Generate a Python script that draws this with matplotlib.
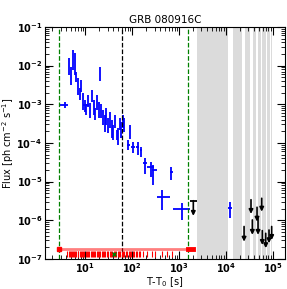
import numpy as np
import matplotlib
matplotlib.use("Agg")
import matplotlib.pyplot as plt
from matplotlib.ticker import FuncFormatter, NullFormatter

# LAT flux points: time, time range, flux, flux range
t = [3.75, 4.57, 5.04, 5.56, 5.98, 6.44, 7.10, 7.83, 8.22, 9.06, 10.0, 10.5, 11.6, 12.8, 14.1,
     15.5, 16.3, 18.0, 19.9, 20.8, 21.9, 24.1, 26.6, 28.0, 30.8, 34.0, 37.5, 39.4, 43.5, 48.0,
     50.4, 55.6, 58.3, 64.4, 67.6, 82, 91, 105, 132, 158, 189, 250, 284, 686, 428, 1140, 12300]
t_lo = [2.94, 4.57, 5.04, 5.56, 5.98, 6.44, 7.10, 7.83, 8.22, 9.06, 10.0, 9.0, 11.6, 12.8, 14.1,
        15.5, 16.3, 18.0, 19.9, 20.8, 21.9, 24.1, 26.6, 28.0, 30.8, 34.0, 37.5, 39.4, 43.5, 48.0,
        50.4, 55.6, 58.3, 64.4, 67.6, 77, 91, 96, 122, 150, 171, 208, 266, 636, 334, 760, 11000]
t_hi = [4.34, 4.57, 5.04, 5.56, 5.98, 6.44, 7.10, 7.83, 8.22, 9.06, 10.0, 12.0, 11.6, 12.8, 14.1,
        15.5, 16.3, 18.0, 19.9, 20.8, 21.9, 24.1, 26.6, 28.0, 30.8, 34.0, 37.5, 39.4, 43.5, 48.0,
        50.4, 55.6, 58.3, 64.4, 67.6, 88, 91, 115, 142, 166, 208, 290, 340, 745, 640, 1710, 13400]
f_lo = [8.0e-4, 5.7e-3, 3.16e-3, 7.7e-3, 5.7e-3, 3.78e-3, 1.74e-3, 1.30e-3, 2.09e-3, 7.1e-4,
        6.3e-4, 5.3e-4, 8.5e-4, 4.4e-4, 1.15e-3, 5.3e-4, 3.9e-4, 7.1e-4, 4.4e-4, 4.0e-3,
        4.4e-4, 2.92e-4, 1.93e-4, 2.92e-4, 1.81e-4, 2.44e-4, 1.35e-4, 1.20e-4, 2.44e-4, 1.20e-4,
        8.9e-5, 2.17e-4, 1.35e-4, 2.44e-4, 1.93e-4, 6.5e-5, 1.26e-4, 5.5e-5, 5.0e-5, 4.4e-5,
        1.58e-5, 1.32e-5, 8.2e-6, 1.1e-5, 1.85e-6, 1.02e-6, 1.13e-6]
f_hi = [1.15e-3, 1.58e-2, 9.2e-3, 2.54e-2, 2.13e-2, 6.9e-3, 4.8e-3, 2.65e-3, 4.26e-3, 1.97e-3,
        1.30e-3, 1.02e-3, 1.74e-3, 1.08e-3, 2.35e-3, 1.30e-3, 8.0e-4, 1.74e-3, 1.15e-3, 9.2e-3,
        1.02e-3, 7.1e-4, 5.3e-4, 8.0e-4, 4.4e-4, 6.3e-4, 3.9e-4, 2.92e-4, 5.3e-4, 2.17e-4,
        2.44e-4, 4.4e-4, 3.5e-4, 5.3e-4, 4.4e-4, 1.2e-4, 2.92e-4, 1.05e-4, 1.05e-4, 7.9e-5,
        4.1e-5, 3.2e-5, 2.7e-5, 2.4e-5, 6.1e-6, 2.8e-6, 3.0e-6]
f = [9.6e-4, None, None, None, None, None, None, None, None, None, None, 9.6e-4, None, None, None,
     None, None, None, None, None, None, None, None, None, None, None, None, None, None, None,
     None, None, None, None, None, 9e-5, None, 7.8e-5, 7.8e-5, 6.6e-5, 3.04e-5, 2.4e-5, 2.0e-5,
     1.81e-5, 4.1e-6, 1.93e-6, 2.05e-6]

# upper limits
ul_t = [2010, 24200, 34000, 36300, 45700, 48000, 57500, 59200, 70000, 82200, 93700]
ul_t_lo = [1710, 24200, 34000, 36300, 45700, 48000, 57500, 59200, 70000, 82200, 93700]
ul_t_hi = [2360, 24200, 34000, 36300, 45700, 48000, 57500, 59200, 70000, 82200, 93700]
ul_top = [3.2e-6, 6.9e-7, 3.4e-6, 1.02e-6, 2.17e-6, 1.13e-6, 3.7e-6, 5.4e-7, 4.6e-7, 5.6e-7, 6.9e-7]
ul_bot = [1.3e-6, 2.8e-7, 1.46e-6, 4.2e-7, 9.2e-7, 4.2e-7, 1.67e-6, 2.3e-7, 1.9e-7, 2.55e-7, 3.1e-7]

# time intervals with no observation
gaps = [(2450, 10900), (13800, 22400), (25000, 32300), (37000, 44000),
        (47000, 55000), (57500, 71000), (74000, 87000), (88500, 96000)]

# photon arrival times
photons = [4.1, 4.5, 4.8, 5.0, 5.3, 5.6, 5.9, 6.2, 6.5, 6.9, 7.2, 7.6, 8.0, 8.5, 9.0, 9.6,
           10.2, 10.8, 11.5, 12.3, 13.0, 13.8, 14.5, 15.5, 16.4, 17.5, 18.6, 19.8, 21, 22.5,
           24, 25.5, 27, 29, 31, 33, 35.5, 38, 40.5, 43, 46, 49, 52, 56, 60, 64, 68, 73, 78,
           84, 90, 97, 104, 112, 120, 130, 140, 150, 174, 205, 262, 308, 428, 547, 698]
max_photon = 40.5
t90 = (2.8, 2000)
t90_end = 1550
t_green = [2.8, 1530]
t_black = 62

xticks = [1e1, 1e2, 1e3, 1e4, 1e5]
yticks = [1e-7, 1e-6, 1e-5, 1e-4, 1e-3, 1e-2, 1e-1]

t = np.array(t); t_lo = np.array(t_lo); t_hi = np.array(t_hi)
f_lo = np.array(f_lo); f_hi = np.array(f_hi)
fc = np.array([np.sqrt(a * b) if v is None else v for v, a, b in zip(f, f_lo, f_hi)])

fig = plt.figure(figsize=(2.87, 2.89), dpi=100)
ax = fig.add_axes([0.157, 0.104, 0.836, 0.803])

for a, b in gaps:
    ax.axvspan(a, b, color='0.86', lw=0)

ax.errorbar(t, fc, xerr=[t - t_lo, t_hi - t], yerr=[fc - f_lo, f_hi - fc],
            fmt='none', ecolor='blue', elinewidth=1.3, capsize=0)

# upper limits: horizontal bar at the limit, arrow down
ul_t = np.array(ul_t)
ax.errorbar(ul_t, ul_top, xerr=[ul_t - np.array(ul_t_lo), np.array(ul_t_hi) - ul_t],
            fmt='none', ecolor='black', elinewidth=1.3, capsize=0)
for x, top, bot in zip(ul_t, ul_top, ul_bot):
    ax.annotate('', xy=(x, bot), xytext=(x, top),
                arrowprops=dict(arrowstyle='-|>', color='black', lw=1.2,
                                mutation_scale=6, shrinkA=0, shrinkB=0))

for x in t_green:
    ax.axvline(x, color='green', ls='--', lw=0.9)
ax.axvline(t_black, color='black', ls='--', lw=0.9)

ax.plot(t90, [1.8e-7, 1.8e-7], color='red', alpha=0.5, lw=2)
ax.plot([t90_end, t90[1]], [1.8e-7, 1.8e-7], color='red', lw=3.5)
ax.plot(t90[0], 1.8e-7, 's', color='red', ms=3)
ax.plot(photons, [1.35e-7] * len(photons), '|', color='red', ms=5, mew=0.8)
ax.plot(max_photon, 1.35e-7, 'x', color='green', ms=3, mew=1)

ax.set_xscale('log')
ax.set_yscale('log')
ax.set_xlim(1.4, 1.8e5)
ax.set_ylim(1e-7, 1e-1)

fmt = FuncFormatter(lambda v, p: r'$\mathbf{10^{%d}}$' % int(round(np.log10(v))))
ax.set_xticks(xticks)
ax.set_yticks(yticks)
ax.xaxis.set_major_formatter(fmt)
ax.yaxis.set_major_formatter(fmt)
ax.xaxis.set_minor_formatter(NullFormatter())
ax.yaxis.set_minor_formatter(NullFormatter())
ax.tick_params(which='both', direction='in', top=True, right=True, labelsize=7)
ax.tick_params(which='major', length=6)
ax.tick_params(axis='x', which='major', pad=1.5)
ax.tick_params(axis='y', which='major', pad=2)
ax.tick_params(which='minor', length=3)

ax.set_title('GRB 080916C', fontsize=7.5, pad=3)
ax.set_xlabel('T-T$_0$ [s]', fontsize=7, labelpad=0)
ax.set_ylabel('Flux [ph cm$^{-2}$ s$^{-1}$]', fontsize=7, labelpad=0)

fig.savefig('out.png', dpi=100)
